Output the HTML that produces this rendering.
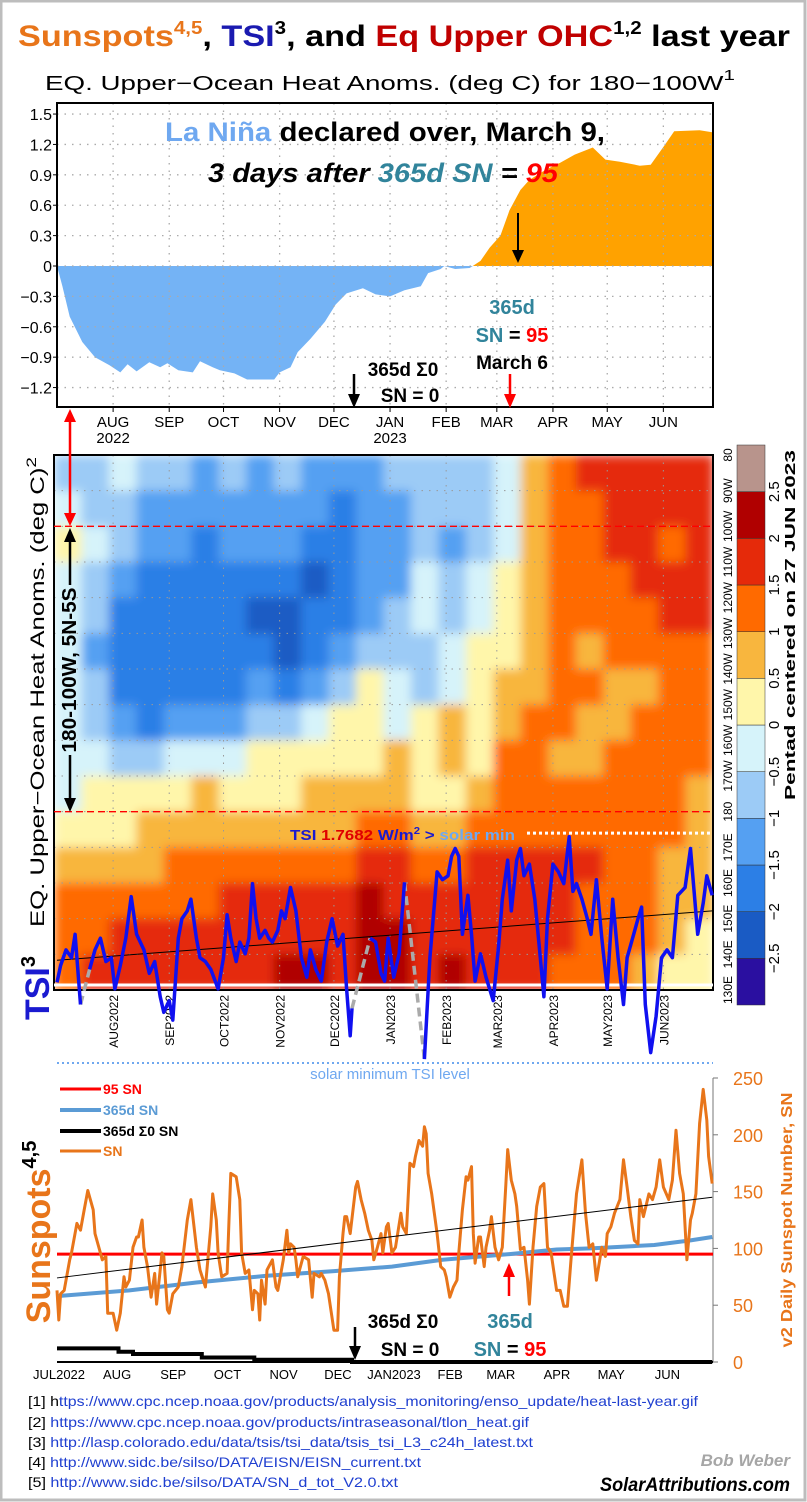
<!DOCTYPE html>
<html><head><meta charset="utf-8"><title>Sunspots, TSI, and Eq Upper OHC last year</title>
<style>
html,body{margin:0;padding:0;background:#fff}
svg{display:block}
text{font-family:"Liberation Sans",sans-serif}
</style></head>
<body>
<svg id="chart" xmlns="http://www.w3.org/2000/svg" width="807" height="1502" viewBox="0 0 807 1502">
<rect x="0" y="0" width="807" height="1502" fill="#fff"/>
<rect x="1" y="1" width="804" height="1499" fill="none" stroke="#bdbdbd" stroke-width="3"/>

<text x="18" y="46" font-size="30" font-weight="bold" textLength="772" lengthAdjust="spacingAndGlyphs"><tspan fill="#E8751A">Sunspots</tspan><tspan fill="#E8751A" font-size="18" dy="-12">4,5</tspan><tspan fill="#000" dy="12">, </tspan><tspan fill="#1A1AB0">TSI</tspan><tspan fill="#000" font-size="18" dy="-12">3</tspan><tspan fill="#000" dy="12">, and </tspan><tspan fill="#C00000">Eq Upper OHC</tspan><tspan fill="#000" font-size="18" dy="-12">1,2</tspan><tspan fill="#000" dy="12"> last year</tspan></text>

<text x="45" y="90" font-size="20" textLength="690" lengthAdjust="spacingAndGlyphs">EQ. Upper−Ocean Heat Anoms. (deg C) for 180−100W<tspan font-size="15" dy="-10">1</tspan></text>

<g id="topChart"></g>
<g id="heatChart"></g>
<g id="bottomChart"></g>

<text x="165" y="141" font-size="27" font-weight="bold" textLength="440" lengthAdjust="spacingAndGlyphs"><tspan fill="#6FA8F0">La Niña</tspan><tspan fill="#000"> declared over, March 9,</tspan></text>
<text x="208" y="182" font-size="27" font-weight="bold" font-style="italic" textLength="350" lengthAdjust="spacingAndGlyphs"><tspan fill="#000">3 days after </tspan><tspan fill="#31849B">365d SN</tspan><tspan fill="#000"> = </tspan><tspan fill="#FF0000">95</tspan></text>
<text x="512" y="314" font-size="20" font-weight="bold" text-anchor="middle" fill="#31849B">365d</text>
<text x="512" y="342" font-size="20" font-weight="bold" text-anchor="middle"><tspan fill="#31849B">SN</tspan><tspan fill="#000"> = </tspan><tspan fill="#FF0000">95</tspan></text>
<text x="512" y="369" font-size="19" font-weight="bold" text-anchor="middle" fill="#000">March 6</text>
<text x="403" y="376" font-size="19" font-weight="bold" text-anchor="middle" fill="#000">365d Σ0</text>
<text x="410" y="402" font-size="19" font-weight="bold" text-anchor="middle" fill="#000">SN = 0</text>
<g>
<line x1="518" y1="213" x2="518" y2="252" stroke="#000" stroke-width="2"/><polygon points="512,250 524,250 518,263" fill="#000"/>
<line x1="354" y1="374" x2="354" y2="396" stroke="#000" stroke-width="2.5"/><polygon points="348,394 360,394 354,408" fill="#000"/>
<line x1="510" y1="374" x2="510" y2="396" stroke="#f00" stroke-width="2.5"/><polygon points="504,394 516,394 510,408" fill="#f00"/>
<line x1="70" y1="420" x2="70" y2="515" stroke="#f00" stroke-width="2.5"/><polygon points="64,422 76,422 70,409" fill="#f00"/><polygon points="64,513 76,513 70,526" fill="#f00"/>
</g>

<text transform="translate(44,692) rotate(-90)" font-size="19" text-anchor="middle" textLength="470" lengthAdjust="spacingAndGlyphs">EQ. Upper−Ocean Heat Anoms. (deg C)<tspan font-size="14" dy="-8">2</tspan></text>
<text transform="translate(76,670) rotate(-90)" font-size="20" font-weight="bold" text-anchor="middle" textLength="165" lengthAdjust="spacingAndGlyphs">180-100W, 5N-5S</text>
<g>
<line x1="70" y1="540" x2="70" y2="585" stroke="#000" stroke-width="2.5"/><polygon points="64,542 76,542 70,528" fill="#000"/>
<line x1="70" y1="755" x2="70" y2="800" stroke="#000" stroke-width="2.5"/><polygon points="64,798 76,798 70,812" fill="#000"/>
</g>
<text transform="translate(49,988) rotate(-90)" font-size="34" font-weight="bold" fill="#1A1AD0" text-anchor="middle">TSI<tspan font-size="20" dy="-14" fill="#000">3</tspan></text>
<text x="290" y="840" font-size="15" font-weight="bold" textLength="225" lengthAdjust="spacingAndGlyphs"><tspan fill="#1A1AD0">TSI </tspan><tspan fill="#E00000">1.7682</tspan><tspan fill="#1A1AD0"> W/m</tspan><tspan fill="#1A1AD0" font-size="10" dy="-6">2</tspan><tspan fill="#1A1AD0" dy="6"> &gt; </tspan><tspan fill="#6FA8F0">solar min</tspan></text>
<text transform="translate(795,625) rotate(-90)" font-size="15" font-weight="bold" text-anchor="middle" textLength="350" lengthAdjust="spacingAndGlyphs">Pentad centered on 27 JUN 2023</text>

<text x="390" y="1079" font-size="15" fill="#6FA8F0" text-anchor="middle">solar minimum TSI level</text>
<text transform="translate(50,1232) rotate(-90)" font-size="34" font-weight="bold" fill="#E8751A" text-anchor="middle">Sunspots<tspan font-size="20" dy="-14" fill="#000">4,5</tspan></text>
<text transform="translate(792,1220) rotate(-90)" font-size="16" font-weight="bold" fill="#E8751A" text-anchor="middle" textLength="255" lengthAdjust="spacingAndGlyphs">v2 Daily Sunspot Number, SN</text>
<text x="403" y="1328" font-size="19" font-weight="bold" text-anchor="middle">365d Σ0</text>
<text x="410" y="1356" font-size="19" font-weight="bold" text-anchor="middle">SN = 0</text>
<text x="510" y="1328" font-size="20" font-weight="bold" text-anchor="middle" fill="#31849B">365d</text>
<text x="510" y="1356" font-size="20" font-weight="bold" text-anchor="middle"><tspan fill="#31849B">SN</tspan><tspan fill="#000"> = </tspan><tspan fill="#FF0000">95</tspan></text>
<g>
<line x1="355" y1="1327" x2="355" y2="1348" stroke="#000" stroke-width="2.5"/><polygon points="349,1346 361,1346 355,1360" fill="#000"/>
<line x1="509" y1="1275" x2="509" y2="1296" stroke="#f00" stroke-width="2.5"/><polygon points="503,1277 515,1277 509,1263" fill="#f00"/>
</g>
<g font-size="14" font-weight="bold">
<line x1="60" y1="1089" x2="101" y2="1089" stroke="#f00" stroke-width="3"/><text x="103" y="1094" fill="#f00">95 SN</text>
<line x1="60" y1="1110" x2="101" y2="1110" stroke="#5B9BD5" stroke-width="4"/><text x="103" y="1115" fill="#5B9BD5">365d SN</text>
<line x1="60" y1="1131" x2="101" y2="1131" stroke="#000" stroke-width="4"/><text x="103" y="1136" fill="#000">365d Σ0 SN</text>
<line x1="60" y1="1151" x2="101" y2="1151" stroke="#E8751A" stroke-width="3"/><text x="103" y="1156" fill="#E8751A">SN</text>
</g>

<g font-size="14">
<text x="28" y="1406" textLength="670" lengthAdjust="spacingAndGlyphs"><tspan fill="#000">[1] h</tspan><tspan fill="#1F3FD0">ttps://www.cpc.ncep.noaa.gov/products/analysis_monitoring/enso_update/heat-last-year.gif</tspan></text>
<text x="28" y="1427" textLength="501" lengthAdjust="spacingAndGlyphs"><tspan fill="#000">[2] </tspan><tspan fill="#1F3FD0">https://www.cpc.ncep.noaa.gov/products/intraseasonal/tlon_heat.gif</tspan></text>
<text x="28" y="1447" textLength="505" lengthAdjust="spacingAndGlyphs"><tspan fill="#000">[3] </tspan><tspan fill="#1F3FD0">http://lasp.colorado.edu/data/tsis/tsi_data/tsis_tsi_L3_c24h_latest.txt</tspan></text>
<text x="28" y="1467" textLength="393" lengthAdjust="spacingAndGlyphs"><tspan fill="#000">[4] </tspan><tspan fill="#1F3FD0">http://www.sidc.be/silso/DATA/EISN/EISN_current.txt</tspan></text>
<text x="28" y="1487" textLength="370" lengthAdjust="spacingAndGlyphs"><tspan fill="#000">[5] </tspan><tspan fill="#1F3FD0">http://www.sidc.be/silso/DATA/SN_d_tot_V2.0.txt</tspan></text>
</g>
<text x="790" y="1466" font-size="17" font-weight="bold" font-style="italic" fill="#A6A6A6" text-anchor="end">Bob Weber</text>
<text x="790" y="1491" font-size="19" font-weight="bold" font-style="italic" fill="#000" text-anchor="end" textLength="190" lengthAdjust="spacingAndGlyphs">SolarAttributions.com</text>
</svg>

<script>
const ohcDays = [0,3,7,14,21,29,35,39,44,51,57,61,67,75,79,86,90,98,105,120,123,129,133,140,148,154,160,169,176,184,192,201,205,212,214,220,228,234,239,245,250,256,261,270,278,286,296,303,311,322,328,336,341,355,362];
const ohcValues = [0,-0.2,-0.5,-0.75,-0.9,-0.98,-1.05,-0.97,-1.04,-0.95,-1.0,-0.96,-1.03,-1.05,-0.94,-1.0,-1.03,-1.06,-1.12,-1.12,-1.05,-1.0,-0.85,-0.72,-0.55,-0.38,-0.27,-0.22,-0.28,-0.3,-0.24,-0.2,-0.07,-0.03,0.0,-0.03,-0.02,0.05,0.18,0.3,0.55,0.75,0.85,0.95,1.02,1.1,1.17,1.05,1.03,0.99,1.0,1.2,1.33,1.34,1.32];
const ohcTicks = [1.5,1.2,0.9,0.6,0.3,0,-0.3,-0.6,-0.9,-1.2];
const ohcTickLabels = ["1.5","1.2","0.9","0.6","0.3","0","−0.3","−0.6","−0.9","−1.2"];
const monthDays = [31,62,92,123,153,184,215,243,274,304,335];
const monthNames = ["AUG","SEP","OCT","NOV","DEC","JAN","FEB","MAR","APR","MAY","JUN"];
const heatMonthLabels = ["AUG2022","SEP2022","OCT2022","NOV2022","DEC2022","JAN2023","FEB2023","MAR2023","APR2023","MAY2023","JUN2023"];
const snMonthLabels = ["AUG","SEP","OCT","NOV","DEC","JAN2023","FEB","MAR","APR","MAY","JUN"];
const lonLabels = ["80","90W","100W","110W","120W","130W","140W","150W","160W","170W","180","170E","160E","150E","140E","130E"];
const colorLevels = [-2.5,-2,-1.5,-1,-0.5,0,0.5,1,1.5,2,2.5];
const colorLevelLabels = ["−2.5","−2","−1.5","−1","−0.5","0","0.5","1","1.5","2","2.5"];
const heatRows = [
[-0.7,-0.7,-0.3,-0.8,-0.8,-1.2,-0.8,-1.2,-0.8,-1.2,-1.2,-1.2,-0.8,-0.8,-0.8,-0.7,-0.3,0.7,1.2,1.7,1.7,1.7,1.7,1.7],
[-0.3,-0.7,-0.7,-1.2,-1.2,-1.2,-1.2,-1.2,-1.2,-1.2,-1.7,-1.2,-1.2,-0.8,-0.8,-0.7,-0.3,0.7,1.2,1.2,1.7,1.7,1.7,1.7],
[0.3,-0.3,-0.8,-1.2,-1.2,-1.7,-1.2,-1.2,-1.2,-1.7,-1.7,-1.2,-1.2,-0.8,-1.2,-0.8,-0.3,0.7,1.2,1.2,1.7,1.7,1.2,1.7],
[-0.3,-0.8,-1.2,-1.7,-1.7,-1.7,-1.7,-1.7,-1.7,-2.2,-1.7,-1.2,-1.2,-0.3,-0.8,-0.3,0.3,0.7,1.2,1.2,1.2,1.7,1.7,1.7],
[-0.3,-0.8,-1.7,-1.7,-1.7,-1.7,-1.7,-2.2,-2.2,-1.7,-1.7,-1.2,-0.8,-0.3,-0.8,-0.3,0.3,0.7,1.2,1.2,1.2,1.2,1.7,1.7],
[-0.3,-1.2,-1.7,-1.7,-1.7,-1.7,-1.7,-1.7,-2.2,-1.7,-1.2,-0.8,-0.8,-0.8,-0.3,0.3,0.3,0.7,1.2,0.7,1.2,1.2,1.2,1.2],
[-0.3,-0.8,-1.7,-1.7,-1.7,-1.7,-1.7,-1.2,-1.7,-1.2,-0.8,0.3,-0.3,-0.8,-0.3,0.3,0.7,0.7,1.2,1.2,0.7,0.7,1.2,1.2],
[-0.3,-0.8,-1.2,-1.7,-1.2,-1.2,-1.2,-0.8,-0.8,-0.3,0.3,0.3,-0.3,0.3,0.7,0.3,0.7,1.2,1.2,0.7,0.7,1.2,1.2,1.2],
[-0.3,-0.3,-0.8,-0.8,-0.3,-0.3,-0.3,0.3,0.3,0.3,0.3,0.3,0.7,0.3,0.7,0.3,1.2,1.2,0.7,0.7,1.2,1.2,1.2,1.2],
[-0.3,0.3,0.3,0.3,0.3,0.7,0.3,0.3,0.3,0.7,0.7,0.7,0.7,0.3,0.3,0.7,1.2,1.2,1.2,1.2,1.2,1.2,1.2,0.7],
[0.3,0.3,0.3,0.7,0.7,0.7,0.7,0.7,0.7,0.7,0.7,1.2,1.2,0.7,0.7,1.2,1.2,1.2,1.2,1.2,1.2,1.2,1.2,0.7],
[0.7,0.7,0.7,0.7,1.2,1.2,1.2,1.2,1.2,1.2,1.2,1.7,1.7,1.2,1.2,1.7,1.7,1.7,1.7,1.7,1.2,1.2,0.7,0.7],
[1.2,1.2,1.2,1.2,1.2,1.2,1.7,1.7,1.7,1.7,1.7,2.2,1.7,1.7,1.7,1.7,1.7,1.7,1.7,1.2,1.2,1.2,0.7,0.7],
[1.2,1.2,1.7,1.7,1.7,1.7,1.7,1.7,1.7,1.7,1.7,2.2,2.2,1.7,1.7,1.7,1.7,1.7,1.7,1.2,1.2,1.2,0.7,0.3],
[1.2,1.7,1.7,1.7,1.7,1.7,1.7,1.7,2.2,2.2,1.7,2.2,2.2,1.7,2.2,1.7,1.7,1.7,1.2,1.2,1.2,0.7,0.3,0.3]
];
const tsiDays = [0,2,5,8,10,13,18,21,24,27,30,32,35,38,41,44,48,51,54,57,59,62,64,67,69,72,74,77,79,82,85,89,92,94,96,99,101,104,106,108,110,112,115,117,119,122,124,126,129,132,135,138,140,143,146,149,152,155,158,160,162,163,173,176,179,181,183,186,189,192,203,206,210,213,216,218,220,222,224,227,229,231,234,237,241,244,246,249,251,254,256,258,261,264,267,269,271,274,277,280,283,285,287,290,293,295,298,301,304,307,310,313,315,318,321,323,325,328,331,334,337,340,343,347,350,354,357,359,362];
const tsiValues = [0.62,0.75,0.87,0.81,0.99,0.45,0.72,0.87,0.96,0.78,0.81,0.57,0.75,0.96,1.28,0.99,0.87,0.69,0.78,0.51,0.39,0.48,0.33,0.96,1.11,1.17,1.26,0.96,0.81,0.78,0.72,0.57,0.81,1.14,0.96,0.78,0.93,0.84,0.96,1.38,1.11,0.96,1.02,0.96,0.93,1.02,1.17,1.11,1.35,1.17,0.81,0.66,0.87,0.72,0.63,0.93,1.11,0.90,0.99,0.57,0.21,0.42,0.96,0.93,0.69,0.63,0.96,0.66,0.84,1.39,0.03,0.81,1.47,1.41,1.44,1.59,1.65,1.59,0.99,1.29,0.99,0.63,0.84,0.66,0.48,0.90,1.26,1.56,1.17,1.56,1.65,1.44,1.53,1.26,0.81,0.51,1.11,1.53,1.47,1.38,1.74,1.32,1.38,1.26,1.11,0.99,1.41,0.96,0.57,1.26,0.81,0.45,0.81,0.96,1.11,1.20,0.45,0.08,0.36,0.81,0.87,0.81,1.29,1.35,1.65,0.99,1.23,1.44,1.29];
const tsiGapStartDays = [13,163,192];
const tsiTrend = [0.79,1.17];
const tsiSolarMinExcess = [1.7682];
const snDays = [0,1,2,4,7,8,11,13,15,17,20,21,24,25,27,28,31,33,35,37,38,40,42,44,45,47,48,50,52,54,55,58,59,61,62,64,67,69,72,74,77,79,82,85,86,88,89,91,94,95,96,99,101,102,104,106,108,109,111,112,113,115,116,118,119,121,122,125,127,128,129,131,132,133,136,139,141,142,145,146,148,150,153,155,156,158,159,160,162,165,166,168,170,172,174,175,177,179,180,182,183,185,187,190,191,193,195,197,198,200,202,203,204,205,207,210,212,214,215,217,219,221,222,224,226,227,229,230,231,233,234,236,237,239,240,242,244,246,248,249,251,253,254,256,258,260,261,263,265,267,269,271,273,276,278,280,282,284,287,290,292,294,296,298,301,303,304,306,308,311,313,315,317,319,321,322,324,327,329,331,333,335,338,340,342,344,346,348,350,351,353,355,357,359,360,362];
const snValues = [63,37,60,63,90,96,122,116,134,151,134,113,96,90,93,43,43,28,43,75,66,72,101,110,110,125,101,84,57,78,51,96,93,46,43,60,66,84,125,143,101,81,66,119,148,125,96,75,78,125,166,163,143,96,78,81,46,63,60,37,72,51,81,87,90,66,63,90,116,96,104,101,90,75,93,90,57,78,75,78,72,60,28,28,75,113,128,128,113,154,159,143,131,116,107,90,101,113,96,119,122,96,101,131,119,113,175,172,181,195,190,207,201,166,148,113,84,81,75,57,66,72,96,134,163,160,172,113,87,110,110,84,101,116,128,101,90,101,157,187,160,148,137,99,101,72,51,101,137,154,157,101,96,63,63,49,49,90,148,178,131,101,104,72,101,93,113,119,131,143,178,154,128,107,104,143,128,148,143,154,178,154,143,160,204,166,148,90,125,131,148,210,240,213,181,157];
const sn365Days = [0,40,77,116,153,185,213,250,276,295,330,350,362];
const sn365Values = [58,63,70,76,80,84,90,95,99,100,103,107,110];
const snSigma0Days = [0,34,42,80,109,163,362];
const snSigma0Values = [12,9,7,4,2,0,0];
const snTrend = [74,145];
const snThreshold = [95];
const snTicks = [0,50,100,150,200,250];

const NS='http://www.w3.org/2000/svg';
function mk(tag, attrs, parent){const e=document.createElementNS(NS,tag);for(const k in attrs)e.setAttribute(k,attrs[k]);parent.appendChild(e);return e;}
const X0=57, XD=1.81;
const xDay = d => X0 + d*XD;
const yOhc = v => 266 - v*101.3;
const yTsi = v => 1063 - v*130;
const ySn = v => 1362 - v*1.136;
function linePath(days, vals, yf){const n=Math.min(days.length,vals.length);let s='';for(let i=0;i<n;i++){s+=(i?' L':'M')+xDay(days[i]).toFixed(1)+','+yf(vals[i]).toFixed(1);}return s;}
function stepPath(days, vals, yf){const n=Math.min(days.length,vals.length);let s='';for(let i=0;i<n;i++){const x=xDay(days[i]).toFixed(1),y=yf(vals[i]).toFixed(1);if(i===0)s='M'+x+','+y;else{s+=' L'+x+','+yf(vals[i-1]).toFixed(1)+' L'+x+','+y;}}return s;}
const palette=['#2A0FA0','#1A5BC4','#2C7FE6','#55A0F2','#9CCBF6','#D6F3FA','#FFF6AA','#F8B63E','#FF6A00','#E52A0A','#B00000','#B8948C'];
function colorFor(v){let k=0;while(k<colorLevels.length && v>=colorLevels[k])k++;return palette[k];}
const svgRoot=document.getElementById('chart');

// top chart
const topG=document.getElementById('topChart');
const TL=57,TR=713,TT=103,TB=407;
const defs=mk('defs',{},svgRoot);
const cpA=mk('clipPath',{id:'above'},defs);mk('rect',{x:TL,y:TT,width:TR-TL,height:yOhc(0)-TT},cpA);
const cpB=mk('clipPath',{id:'below'},defs);mk('rect',{x:TL,y:yOhc(0),width:TR-TL,height:TB-yOhc(0)},cpB);
const HL=54,HR=713,HT=455,HB=990;
const cpH=mk('clipPath',{id:'heatclip'},defs);mk('rect',{x:HL,y:HT,width:HR-HL,height:HB-HT},cpH);
const flt=mk('filter',{id:'heatblur',filterUnits:'userSpaceOnUse',x:HL,y:HT,width:HR-HL,height:HB-HT},defs);
mk('feGaussianBlur',{stdDeviation:5,edgeMode:'duplicate'},flt);

const areaD=linePath(ohcDays,ohcValues,yOhc)+' L'+xDay(ohcDays[ohcDays.length-1])+','+yOhc(0)+' L'+xDay(ohcDays[0])+','+yOhc(0)+' Z';
const aPos=mk('path',{d:areaD,fill:'#FFA200','clip-path':'url(#above)'},topG);


const aNeg=mk('path',{d:areaD,fill:'#74B3F5','clip-path':'url(#below)'},topG);


for(let i=0;i<ohcTicks.length;i++){
  const y=yOhc(ohcTicks[i]);
  const g=mk('line',{x1:TL,x2:TR,y1:y,y2:y,stroke:'#aaa','stroke-width':1.3,'stroke-dasharray':'1.5,6'},topG);
  
  
  const t=mk('text',{x:TL-5,y:y+6,'font-size':16,'text-anchor':'end'},topG);
  
  
  t.textContent=ohcTickLabels[i];
  const tk=mk('line',{x1:TL-4,x2:TL,y1:y,y2:y,stroke:'#000'},topG);
  
  
}
for(let i=0;i<monthDays.length;i++){
  const x=xDay(monthDays[i]);
  const g=mk('line',{x1:x,x2:x,y1:TT,y2:TB,stroke:'#aaa','stroke-width':1.3,'stroke-dasharray':'1.5,6'},topG);
  
  
  const t=mk('text',{x:x,y:427,'font-size':15,'text-anchor':'middle'},topG);
  
  
  t.textContent=monthNames[i];
  const tk=mk('line',{x1:x,x2:x,y1:TB,y2:TB+5,stroke:'#000'},topG);
  
  
}
const yr1=mk('text',{x:xDay(monthDays[0]),y:443,'font-size':15,'text-anchor':'middle'},topG);


yr1.textContent='2022';
const yr2=mk('text',{x:xDay(monthDays[5]),y:443,'font-size':15,'text-anchor':'middle'},topG);


yr2.textContent='2023';
const tframe=mk('rect',{x:TL,y:TT,width:TR-TL,height:TB-TT,fill:'none',stroke:'#000','stroke-width':2},topG);



// heatmap
const heatG=document.getElementById('heatChart');
const cellG=mk('g',{'clip-path':'url(#heatclip)'},heatG);


const blurG=mk('g',{filter:'url(#heatblur)'},cellG);
const cols=heatRows[0].length, rows=heatRows.length;
const cw=(HR-HL)/cols, rh=(HB-HT)/rows;
for(let j=0;j<rows;j++)for(let i=0;i<cols;i++){
  const r=mk('rect',{x:(HL+i*cw).toFixed(2),y:(HT+j*rh).toFixed(2),width:(cw+0.6).toFixed(2),height:(rh+0.6).toFixed(2),fill:colorFor(heatRows[j][i])},blurG);
  
  
}
for(let j=0;j<lonLabels.length;j++){
  const y=HT+j*rh;
  if(j>0&&j<lonLabels.length-1){
    const g=mk('line',{x1:HL,x2:HR,y1:y,y2:y,stroke:'#999','stroke-width':1,'stroke-dasharray':'1.5,6'},heatG);
    
    
  }
  const t=mk('text',{transform:'translate('+(HR+19)+','+y+') rotate(-90)','font-size':12,'text-anchor':'middle'},heatG);
  
  
  t.textContent=lonLabels[j];
}
for(let i=0;i<monthDays.length;i++){
  const x=xDay(monthDays[i]);
  const g=mk('line',{x1:x,x2:x,y1:HT,y2:HB,stroke:'#999','stroke-width':1,'stroke-dasharray':'1.5,6'},heatG);
  
  
  const t=mk('text',{transform:'translate('+(x+5)+','+(HB+5)+') rotate(-90)','font-size':12,'text-anchor':'end'},heatG);
  
  
  t.textContent=heatMonthLabels[i];
}
const hframe=mk('rect',{x:HL,y:HT,width:HR-HL,height:HB-HT,fill:'none',stroke:'#000','stroke-width':2},heatG);


const wl=mk('line',{x1:HL,x2:HR,y1:HB-5,y2:HB-5,stroke:'#fff','stroke-width':3},heatG);


const rd1=mk('line',{x1:HL,x2:HR,y1:HT+2*rh,y2:HT+2*rh,stroke:'#f00','stroke-width':1.3,'stroke-dasharray':'7,4'},heatG);


const rd2=mk('line',{x1:HL,x2:HR,y1:HT+10*rh,y2:HT+10*rh,stroke:'#f00','stroke-width':1.3,'stroke-dasharray':'7,4'},heatG);


const CBX=737,CBW=28,CBT=445,CBH=560;
const segH=CBH/palette.length;
for(let k=0;k<palette.length;k++){
  const r=mk('rect',{x:CBX,y:CBT+CBH-(k+1)*segH,width:CBW,height:segH,fill:palette[k],stroke:'#333','stroke-width':0.5},heatG);
  
  
}
for(let k=0;k<colorLevels.length;k++){
  const y=CBT+CBH-(k+1)*segH;
  const t=mk('text',{transform:'translate('+(CBX+CBW+14)+','+y+') rotate(-90)','font-size':15,'text-anchor':'middle'},heatG);
  
  
  t.textContent=colorLevelLabels[k];
}
const tsiMinY=yTsi(tsiSolarMinExcess[0]);
const wd=mk('line',{x1:527,x2:713,y1:tsiMinY,y2:tsiMinY,stroke:'#fff','stroke-width':3,'stroke-dasharray':'3,3'},heatG);


const smin=mk('line',{x1:57,x2:713,y1:yTsi(0),y2:yTsi(0),stroke:'#6FA8F0','stroke-width':2,'stroke-dasharray':'2,3'},heatG);


const tt=mk('line',{x1:xDay(0),x2:xDay(362),y1:yTsi(tsiTrend[0]),y2:yTsi(tsiTrend[1]),stroke:'#000','stroke-width':1},heatG);


let solid='',grey='';
const tn=Math.min(tsiDays.length,tsiValues.length);
for(let i=0;i<tn;i++){
  const p=xDay(tsiDays[i]).toFixed(1)+','+yTsi(tsiValues[i]).toFixed(1);
  if(i===0){solid+='M'+p;continue;}
  const prev=xDay(tsiDays[i-1]).toFixed(1)+','+yTsi(tsiValues[i-1]).toFixed(1);
  if(tsiGapStartDays.indexOf(tsiDays[i-1])>=0){grey+='M'+prev+' L'+p+' ';solid+=' M'+p;}
  else solid+=' L'+p;
}
const tg=mk('path',{d:grey,fill:'none',stroke:'#AAAAAA','stroke-width':3.5,'stroke-dasharray':'9,5'},heatG);


const tl=mk('path',{d:solid,fill:'none',stroke:'#1010F0','stroke-width':3.5,'stroke-linejoin':'round'},heatG);



// bottom chart
const botG=document.getElementById('bottomChart');
const BR=713;
for(let i=0;i<snTicks.length;i++){
  const y=ySn(snTicks[i]);
  const tk=mk('line',{x1:BR,x2:BR+5,y1:y,y2:y,stroke:'#777'},botG);
  
  
  const t=mk('text',{x:BR+20,y:y+7,'font-size':18,fill:'#E8751A'},botG);
  
  
  t.textContent=String(snTicks[i]);
}
const ax=mk('line',{x1:BR,x2:BR,y1:ySn(250),y2:ySn(0),stroke:'#777'},botG);


const jl=mk('text',{x:xDay(0)+2,y:1379,'font-size':13,'text-anchor':'middle'},botG);


jl.textContent='JUL2022';
for(let i=0;i<monthDays.length;i++){
  const t=mk('text',{x:xDay(monthDays[i])+4,y:1379,'font-size':13,'text-anchor':'middle'},botG);
  
  
  t.textContent=snMonthLabels[i];
}
const s0=mk('path',{d:stepPath(snSigma0Days,snSigma0Values,ySn),fill:'none',stroke:'#000','stroke-width':4},botG);


const th=mk('line',{x1:xDay(0),x2:BR,y1:ySn(snThreshold[0]),y2:ySn(snThreshold[0]),stroke:'#f00','stroke-width':3},botG);


const s365=mk('path',{d:linePath(sn365Days,sn365Values,ySn),fill:'none',stroke:'#5B9BD5','stroke-width':4},botG);


const sl=mk('path',{d:linePath(snDays,snValues,ySn),fill:'none',stroke:'#E8751A','stroke-width':3,'stroke-linejoin':'round'},botG);


const st=mk('line',{x1:xDay(0),x2:xDay(362),y1:ySn(snTrend[0]),y2:ySn(snTrend[1]),stroke:'#000','stroke-width':1},botG);


const bx=mk('line',{x1:xDay(0),x2:BR,y1:ySn(0),y2:ySn(0),stroke:'#000','stroke-width':2},botG);


</script>
</body></html>
